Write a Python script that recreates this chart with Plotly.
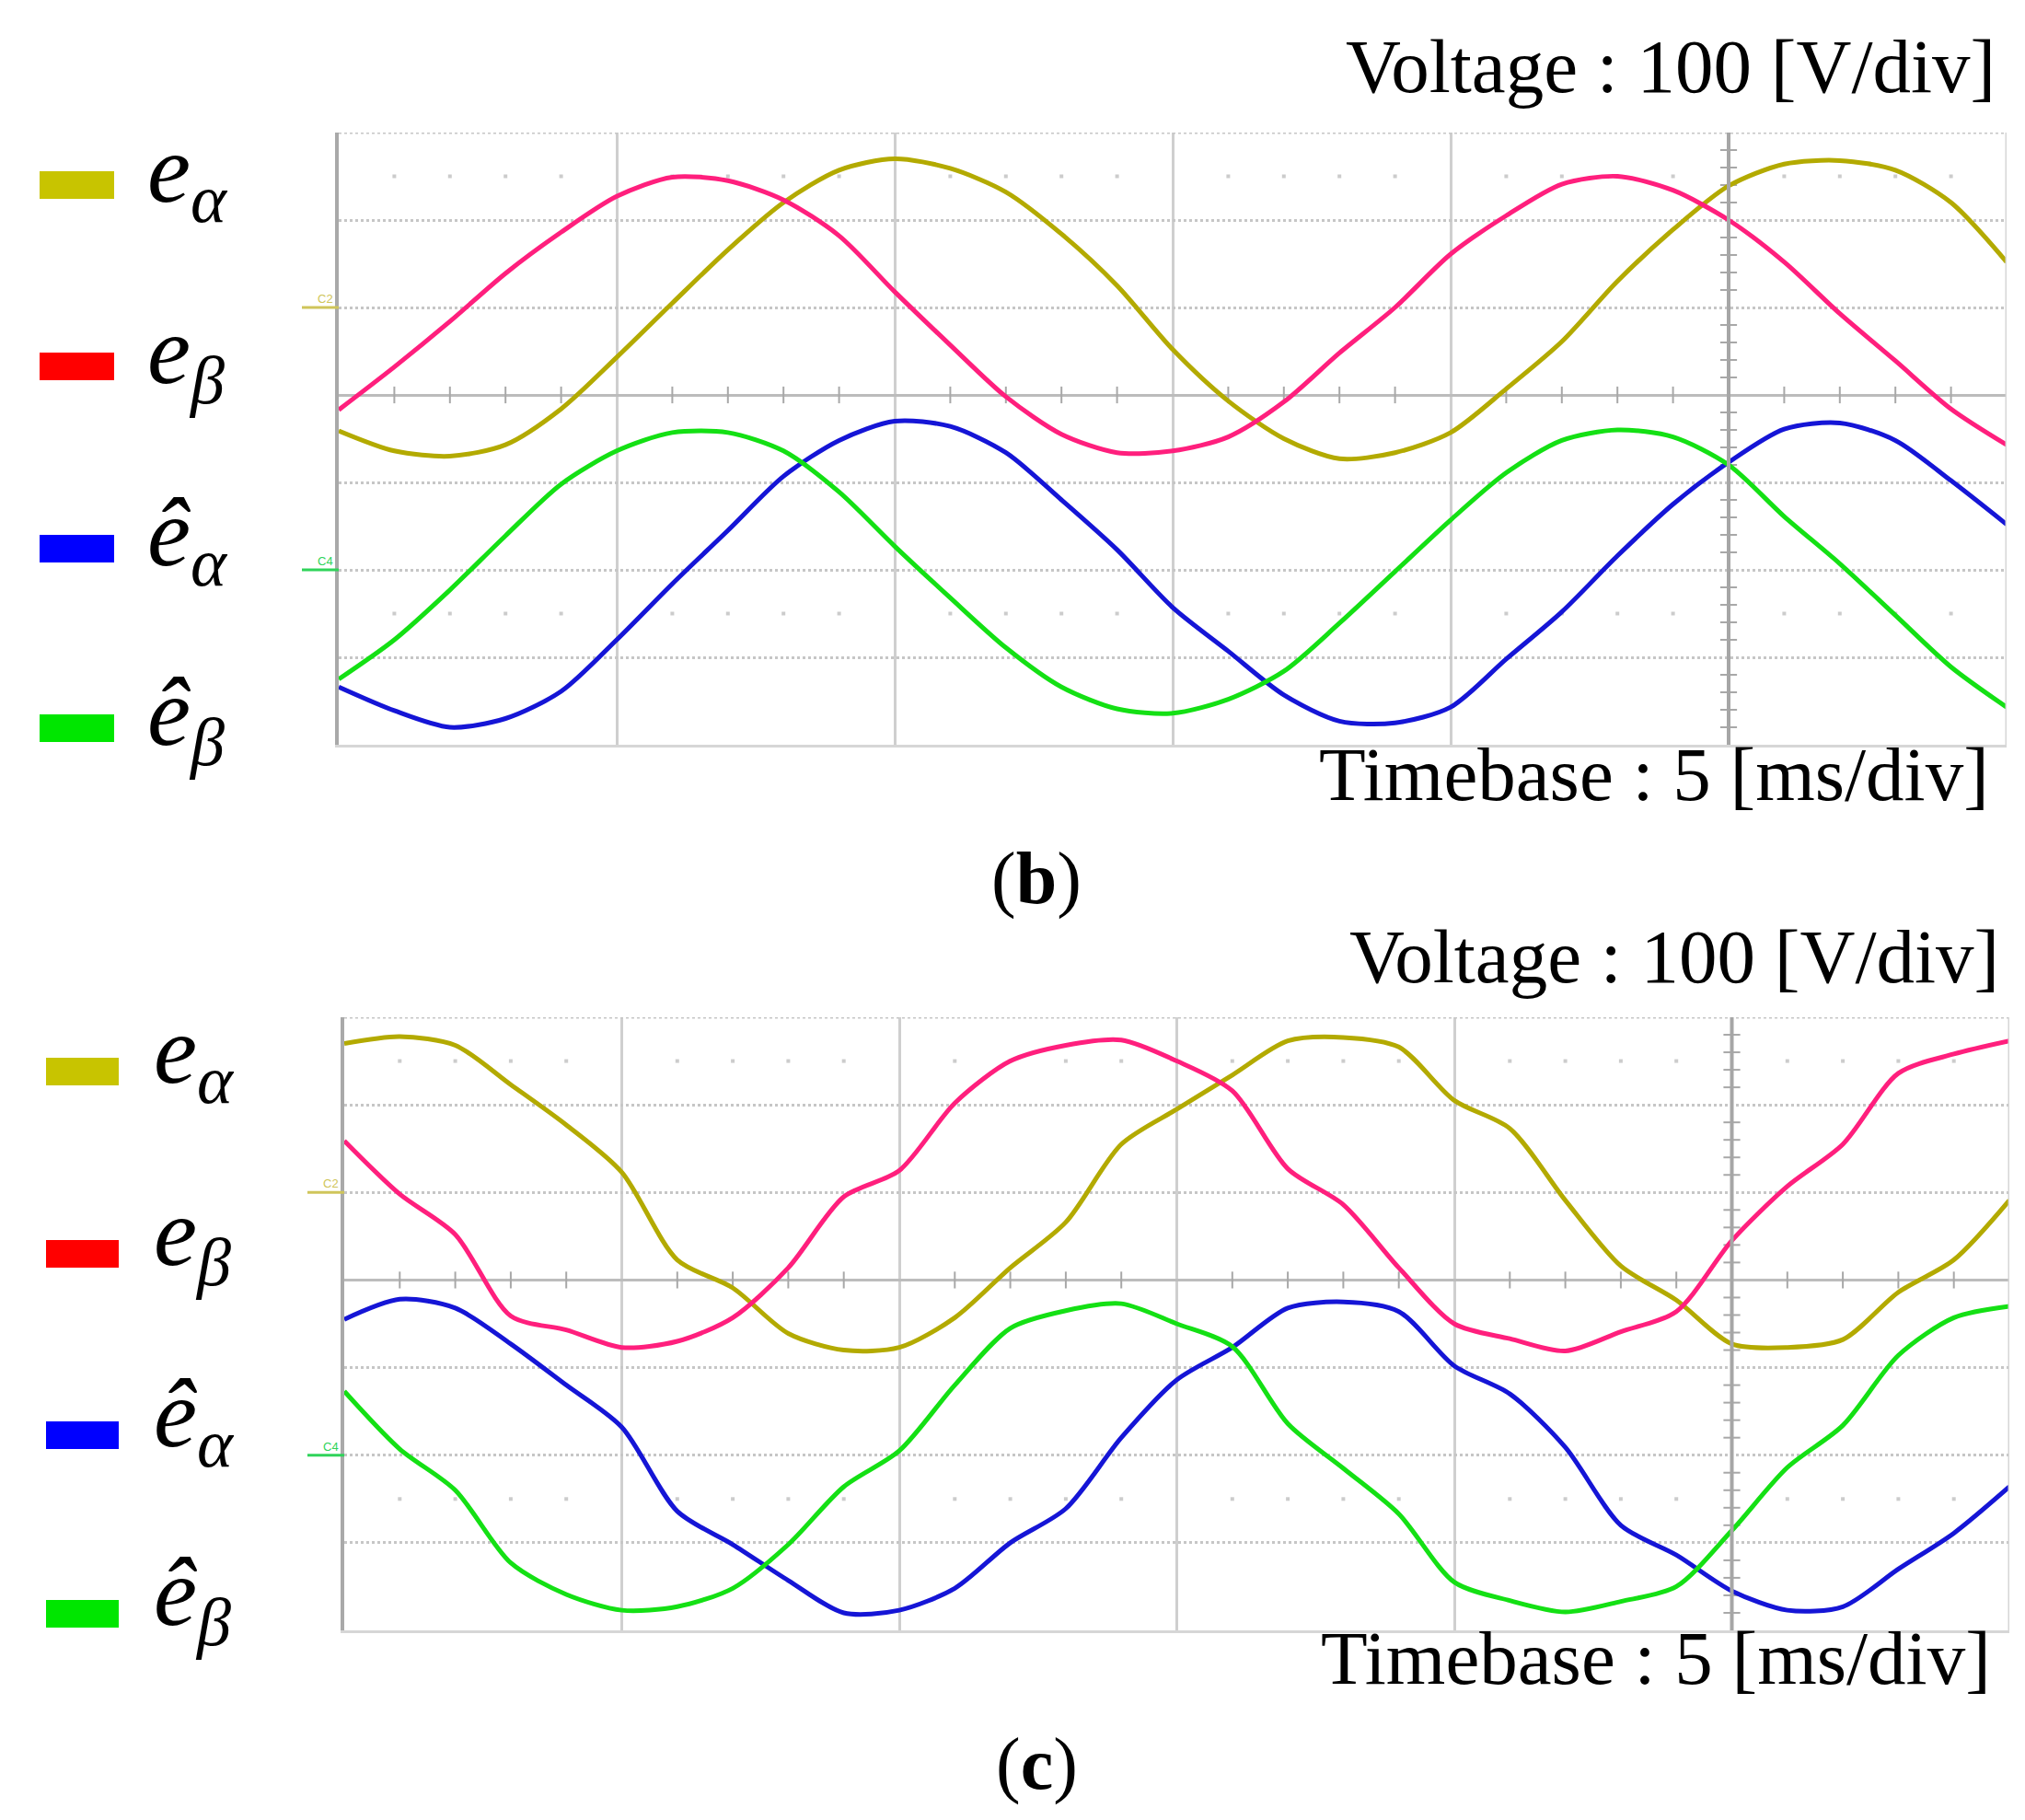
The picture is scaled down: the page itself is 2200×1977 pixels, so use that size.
import numpy as np
import plotly.graph_objects as go

W, H = 2200, 1977
MS_PER_DIV = 5     # Timebase : 5 [ms/div]
V_PER_DIV = 100    # Voltage : 100 [V/div]

# sample instants in ms (read every 1/5 division)
t_ms = [0, 1, 2, 3, 4, 5, 6, 7, 8, 9, 10, 11, 12, 13, 14, 15,
        16, 17, 18, 19, 20, 21, 22, 23, 24, 25, 26, 27, 28, 29, 30]

# panel (b): screen voltages in V
b_e_alpha = [-41, -64, -70, -57, -16, 43, 105, 166, 220, 257, 270, 259, 232, 184, 125, 52,
             -7, -50, -73, -66, -43, 7, 61, 130, 189, 239, 264, 268, 257, 220, 152]
b_e_beta = [-17, 32, 84, 139, 186, 227, 249, 245, 223, 182, 118, 57, -2, -45, -66, -64,
            -48, -8, 48, 100, 161, 205, 241, 250, 234, 200, 152, 93, 39, -16, -57]
b_eh_alpha = [-334, -361, -380, -370, -339, -280, -216, -155, -93, -52, -30, -36, -66, -120, -177, -243,
              -293, -343, -373, -375, -357, -302, -248, -184, -125, -77, -39, -32, -52, -98, -148]
b_eh_beta = [-325, -280, -223, -161, -102, -64, -43, -43, -64, -111, -173, -232, -289, -334, -359, -364,
             -348, -316, -261, -202, -143, -89, -52, -40, -48, -80, -139, -193, -252, -311, -357]

# panel (c): screen voltages in V
c_e_alpha = [270, 278, 268, 223, 177, 123, 23, -9, -61, -80, -77, -43, 14, 66, 155, 195,
             234, 273, 277, 266, 205, 173, 91, 16, -23, -73, -77, -68, -14, 23, 91]
c_e_beta = [159, 98, 52, -41, -57, -77, -70, -43, 14, 95, 125, 202, 250, 268, 274, 250,
            216, 127, 86, 14, -50, -67, -81, -59, -36, 45, 107, 155, 236, 258, 273]
c_eh_alpha = [-45, -22, -32, -73, -120, -168, -264, -302, -343, -380, -377, -352, -300, -261, -180, -114,
              -77, -32, -25, -36, -98, -130, -191, -280, -314, -355, -377, -373, -330, -289, -236]
c_eh_beta = [-127, -193, -240, -323, -359, -377, -373, -352, -302, -236, -195, -120, -55, -35, -27, -50,
             -76, -164, -215, -267, -345, -366, -379, -367, -350, -286, -214, -166, -86, -43, -30]

labels = ["<i>e</i><sub><i>α</i></sub>", "<i>e</i><sub><i>β</i></sub>",
          "<i>ê</i><sub><i>α</i></sub>", "<i>ê</i><sub><i>β</i></sub>"]
trace_colors = ["#b3aa00", "#ff1f7d", "#1515d6", "#14e014"]
key_colors = ["#c8c400", "#ff0000", "#0000ff", "#00e600"]

def px(x):
    return x / W

def py(y):
    return 1 - y / H

panels = [
    dict(x="x", y="y", xd=[px(360), px(2172)], yd=[py(801), py(136)],
         data=[b_e_alpha, b_e_beta, b_eh_alpha, b_eh_beta],
         keys=[193, 390, 588, 783], key_x=[35, 116], text_x=150, text_dy=-10,
         volt=(2162, 64), timeb=(2155, 833), tag=("(<b>b</b>)", 946)),
    dict(x="x2", y="y2", xd=[px(366), px(2175)], yd=[py(1763), py(1097)],
         data=[c_e_alpha, c_e_beta, c_eh_alpha, c_eh_beta],
         keys=[1156, 1354, 1551, 1745], key_x=[42, 121], text_x=157, text_dy=-16,
         volt=(2166, 1031), timeb=(2157, 1793), tag=("(<b>c</b>)", 1908)),
]

t_end = 6 * MS_PER_DIV
v_top, v_bot = 3 * V_PER_DIV, -4 * V_PER_DIV
minor_t = [t for t in np.arange(0, t_end + 0.01, MS_PER_DIV / 5) if t % MS_PER_DIV != 0]
minor_v = [v for v in np.arange(v_bot, v_top + 0.01, V_PER_DIV / 5) if v % V_PER_DIV != 0]

fig = go.Figure()
shapes, annotations = [], []
serif = "Liberation Serif"

for i, p in enumerate(panels):
    xa = "xaxis" if i == 0 else "xaxis2"
    ya = "yaxis" if i == 0 else "yaxis2"
    fig.update_layout(**{
        xa: dict(domain=p["xd"], range=[0, t_end], dtick=MS_PER_DIV, showgrid=True,
                 gridcolor="#cfcfcf", gridwidth=3, zeroline=False, showticklabels=False,
                 ticks="", showline=True, linecolor="#d6d6d6", linewidth=3,
                 anchor=p["y"], fixedrange=True),
        ya: dict(domain=p["yd"], range=[v_bot, v_top], dtick=V_PER_DIV, showgrid=True,
                 gridcolor="#c6c6c6", gridwidth=3, griddash="dot", zeroline=True,
                 zerolinecolor="#bcbcbc", zerolinewidth=3, showticklabels=False, ticks="",
                 showline=True, linecolor="#a9a9a9", linewidth=4, anchor=p["x"],
                 fixedrange=True),
    })
    # graticule extras: top/right borders, cursor line at 5th division
    shapes.append(dict(type="line", xref=p["x"], yref=p["y"], x0=0, x1=t_end, y0=v_top, y1=v_top,
                       line=dict(color="#c6c6c6", width=3, dash="dot")))
    shapes.append(dict(type="line", xref=p["x"], yref=p["y"], x0=t_end, x1=t_end, y0=v_bot, y1=v_top,
                       line=dict(color="#d6d6d6", width=3)))
    shapes.append(dict(type="line", xref=p["x"], yref=p["y"], x0=5 * MS_PER_DIV, x1=5 * MS_PER_DIV,
                       y0=v_bot, y1=v_top, line=dict(color="#a6a6a6", width=4)))
    fig.add_trace(go.Scatter(x=minor_t, y=[0] * len(minor_t), mode="markers", xaxis=p["x"], yaxis=p["y"],
                             marker=dict(symbol="line-ns", size=13, line=dict(color="#a8a8a8", width=2)),
                             hoverinfo="skip", showlegend=False))
    for lv in (2.5 * V_PER_DIV, -2.5 * V_PER_DIV):
        fig.add_trace(go.Scatter(x=minor_t, y=[lv] * len(minor_t), mode="markers", xaxis=p["x"], yaxis=p["y"],
                                 marker=dict(symbol="square", size=4, color="#cccccc"),
                                 hoverinfo="skip", showlegend=False))
    fig.add_trace(go.Scatter(x=[5 * MS_PER_DIV] * len(minor_v), y=minor_v, mode="markers",
                             xaxis=p["x"], yaxis=p["y"],
                             marker=dict(symbol="line-ew", size=13, line=dict(color="#a8a8a8", width=2)),
                             hoverinfo="skip", showlegend=False))

    # the four traces
    for vals, col in zip(p["data"], trace_colors):
        fig.add_trace(go.Scatter(x=t_ms, y=vals, mode="lines", xaxis=p["x"], yaxis=p["y"],
                                 line=dict(color=col, width=5, shape="spline", smoothing=0.8),
                                 showlegend=False))

    # channel markers on the left edge
    for txt, lvl, col in (("C2", V_PER_DIV, "#cfc55a"), ("C4", -2 * V_PER_DIV, "#2fd35a")):
        annotations.append(dict(text=txt, xref="paper", yref=p["y"], x=px(p["xd"][0] * W - 4), y=lvl,
                                xanchor="right", yanchor="bottom", showarrow=False,
                                font=dict(family="Liberation Sans", size=13, color=col)))
        shapes.append(dict(type="line", xref="paper", yref=p["y"], x0=px(p["xd"][0] * W - 40),
                           x1=p["xd"][0], y0=lvl, y1=lvl, line=dict(color=col, width=3)))

    # hand-made key on the left
    for yc, lab, kc in zip(p["keys"], labels, key_colors):
        shapes.append(dict(type="rect", xref="paper", yref="paper", x0=px(p["key_x"][0]), x1=px(p["key_x"][1]),
                           y0=py(yc + 15), y1=py(yc - 15), fillcolor=kc, line=dict(width=0)))
        annotations.append(dict(text=lab, xref="paper", yref="paper", x=px(p["text_x"]),
                                y=py(yc + p["text_dy"]), xanchor="left", yanchor="middle", showarrow=False,
                                font=dict(family=serif, size=106, color="black")))

    annotations.append(dict(text="Voltage : 100 [V/div]", xref="paper", yref="paper",
                            x=px(p["volt"][0]), y=py(p["volt"][1]), xanchor="right", yanchor="middle",
                            showarrow=False, font=dict(family=serif, size=83, color="black")))
    annotations.append(dict(text="Timebase : 5 [ms/div]", xref="paper", yref="paper",
                            x=px(p["timeb"][0]), y=py(p["timeb"][1]), xanchor="right", yanchor="middle",
                            showarrow=False, font=dict(family=serif, size=83, color="black")))
    annotations.append(dict(text=p["tag"][0], xref="paper", yref="paper", x=px(1118), y=py(p["tag"][1]),
                            xanchor="center", yanchor="middle", showarrow=False,
                            font=dict(family=serif, size=80, color="black")))

fig.update_layout(width=W, height=H, margin=dict(l=0, r=0, t=0, b=0),
                  paper_bgcolor="white", plot_bgcolor="white",
                  shapes=shapes, annotations=annotations, showlegend=False)

fig.write_html("out.html")
